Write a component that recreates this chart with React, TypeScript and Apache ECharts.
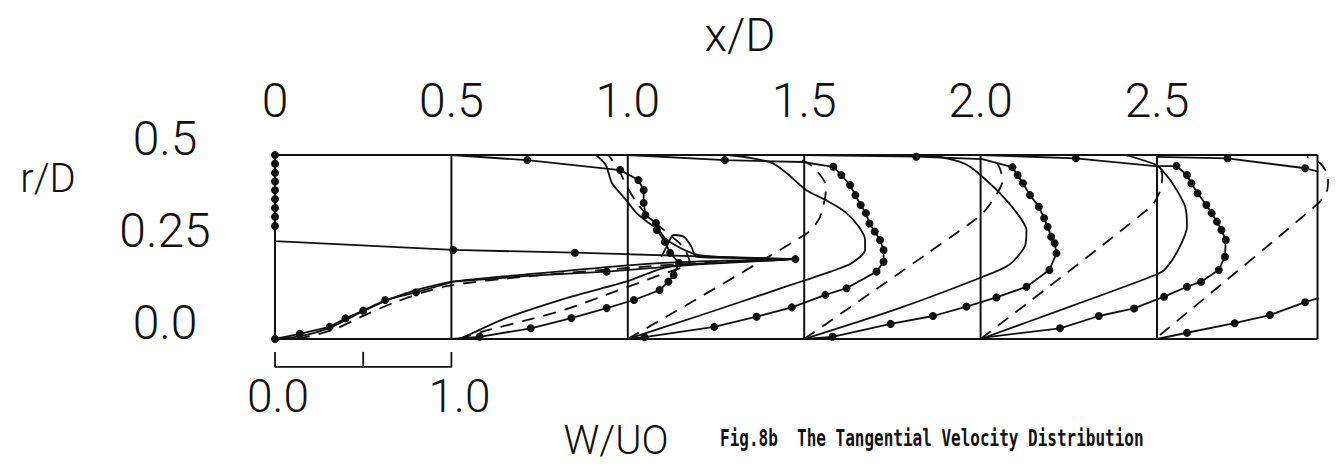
import React, { useEffect, useRef } from 'react';
import * as echarts from 'echarts';

// x/D stations at which the tangential velocity profiles were taken
const STATIONS = [0, 0.5, 1.0, 1.5, 2.0, 2.5];
const FRAME_RIGHT = 2.955; // right border of the figure frame (x/D)
const R_TICKS = [0, 0.25, 0.5];
const R_TICK_LABELS = ['0.0', '0.25', '0.5'];
const X_TICK_LABELS = ['0', '0.5', '1.0', '1.5', '2.0', '2.5'];
const W_SCALE_TICKS = [0, 0.5, 1.0];
const W_SCALE_LABELS = ['0.0', '', '1.0'];
const W_TO_XD = 0.5; // 1.0 of W/UO spans 0.5 of x/D in the figure

// Profiles: [W/UO, r/D, dot?]
const EXP_00 = [[0,0,1],[0.14,0.014,1],[0.31,0.033,1],[0.40,0.056,1],[0.50,0.077,1],[0.625,0.106,1],[0.80,0.127,1],[1.01,0.156,0],[1.45,0.172,0],[1.88,0.183,1],[2.4,0.203,0],[2.95,0.217,1],[1.70,0.2345,1],[1.01,0.242,1],[0,0.266,0],[0,0.307,1],[0,0.332,1],[0,0.356,1],[0,0.38,1],[0,0.404,1],[0,0.428,1],[0,0.452,1],[0,0.476,1],[0,0.5,1]];
const CALC_00 = [[0,0],[0.14,0.007],[0.31,0.030],[0.48,0.071],[0.655,0.109],[0.825,0.136],[1.01,0.156],[1.39,0.174],[2.02,0.201],[2.41,0.211],[2.95,0.217],[2.64,0.220],[2.39,0.223],[2.36,0.251],[2.32,0.277],[2.26,0.2826],[2.22,0.251],[2.19,0.223]];
const DASH_00 = [[0,0],[0.17,0.005],[0.34,0.027],[0.51,0.065],[0.68,0.1],[0.85,0.128],[1.01,0.147],[1.39,0.168],[2.02,0.194],[2.41,0.2065],[2.87,0.215]];

const EXP_05 = [[0,0,0],[0.16,0.006,1],[0.45,0.029,1],[0.68,0.057,1],[0.88,0.084,1],[1.035,0.106,1],[1.18,0.133,1],[1.23,0.156,1],[1.26,0.174,1],[1.29,0.2065,1],[1.24,0.234,1],[1.21,0.264,1],[1.165,0.296,1],[1.16,0.315,1],[1.10,0.337,1],[1.09,0.37,1],[1.09,0.405,1],[1.06,0.432,1],[0.957,0.459,1],[0.43,0.486,1],[0,0.5,0]];
const CALC_05 = [[0.04,0],[0.115,0.015],[0.305,0.056],[0.68,0.115],[0.99,0.156],[1.23,0.196],[1.574,0.209],[1.915,0.216],[1.403,0.228],[1.22,0.269],[1.176,0.296],[1.12,0.315],[1.05,0.342],[0.99,0.378],[0.91,0.424],[0.875,0.473],[0.82,0.5]];
const DASH_05 = [[0.04,0],[0.21,0.0245],[0.395,0.047],[0.665,0.083],[0.95,0.133],[1.18,0.174],[1.35,0.209],[1.32,0.247],[1.24,0.2826],[1.15,0.318],[1.06,0.364],[0.99,0.4185],[0.95,0.459],[0.89,0.5]];

const EXP_10 = [[0,0,0],[0.095,0.005,1],[0.49,0.033,1],[0.73,0.0606,1],[0.93,0.086,1],[1.12,0.12,1],[1.24,0.138,1],[1.41,0.183,1],[1.45,0.21,1],[1.45,0.242,1],[1.43,0.269,1],[1.40,0.292,1],[1.37,0.314,1],[1.35,0.342,1],[1.32,0.364,1],[1.29,0.391,1],[1.26,0.4185,1],[1.21,0.4457,1],[1.165,0.468,1],[0.99,0.481,0],[0.55,0.486,1],[0,0.5,0]];
const CALC_10 = [[0,0],[0.02,0.003],[0.40,0.0625],[0.74,0.117],[1.0,0.159],[1.15,0.183],[1.27,0.2065],[1.345,0.242],[1.345,0.269],[1.31,0.305],[1.23,0.346],[1.12,0.378],[1.01,0.405],[0.90,0.451],[0.82,0.478],[0.70,0.4918],[0.57,0.5]];
const DASH_10 = [[0,0],[1.015,0.287],[1.09,0.332],[1.125,0.414],[1.05,0.468],[0.99,0.486]];

const EXP_15 = [[0,0,0],[0.16,0.006,1],[0.49,0.041,1],[0.73,0.0625,1],[0.92,0.088,1],[1.09,0.113,1],[1.26,0.142,1],[1.39,0.1875,1],[1.43,0.233,1],[1.42,0.26,1],[1.40,0.278,1],[1.38,0.305,1],[1.36,0.328,1],[1.33,0.3595,1],[1.28,0.391,1],[1.24,0.423,1],[1.21,0.4457,1],[1.18,0.467,1],[1.01,0.489,0],[0.635,0.4954,1],[0,0.5,0]];
const CALC_15 = [[0,0],[0.54,0.084],[1.01,0.1685],[1.16,0.201],[1.25,0.251],[1.26,0.296],[1.20,0.346],[1.11,0.396],[1.01,0.441],[0.94,0.468],[0.88,0.482],[0.77,0.4946],[0.65,0.5]];
const DASH_15 = [[0,0],[0.98,0.328],[1.05,0.364],[1.125,0.432],[1.10,0.473],[1.05,0.492]];

const EXP_20 = [[0,0,0],[0.05,0.006,0],[0.45,0.029,1],[0.67,0.0625,1],[0.87,0.083,1],[1.04,0.115,1],[1.17,0.142,1],[1.25,0.1557,1],[1.35,0.1875,1],[1.385,0.2236,1],[1.39,0.269,1],[1.365,0.296,1],[1.34,0.319,1],[1.31,0.342,1],[1.28,0.364,1],[1.23,0.396,1],[1.195,0.423,1],[1.17,0.4457,1],[1.11,0.47,1],[0.99,0.47,0],[0.54,0.491,1],[0,0.5,0]];
const CALC_20 = [[0,0],[0.53,0.092],[0.99,0.174],[1.05,0.192],[1.12,0.242],[1.17,0.305],[1.16,0.3595],[1.10,0.414],[1.045,0.45],[0.995,0.473],[0.82,0.5]];
const DASH_20 = [[0,0],[0.965,0.3595],[1.02,0.405],[1.03,0.4457],[1.0,0.478]];

const EXP_25_LOW = [[0,0,0],[0.17,0.017,1],[0.44,0.043,1],[0.64,0.065,1],[0.84,0.1,1],[0.915,0.111,0]];
const EXP_25_TOP = [[0,0.495,0],[0.40,0.491,1],[0.84,0.464,1],[0.915,0.4546,0]];
const DASH_25 = [[0.017,0.011],[0.915,0.369],[0.965,0.405],[0.97,0.441],[0.925,0.4775],[0.85,0.495]];

const PROFILES = [
  { station: STATIONS[0], exp: [EXP_00], calc: CALC_00, dash: DASH_00 },
  { station: STATIONS[1], exp: [EXP_05], calc: CALC_05, dash: DASH_05 },
  { station: STATIONS[2], exp: [EXP_10], calc: CALC_10, dash: DASH_10 },
  { station: STATIONS[3], exp: [EXP_15], calc: CALC_15, dash: DASH_15 },
  { station: STATIONS[4], exp: [EXP_20], calc: CALC_20, dash: DASH_20 },
  { station: STATIONS[5], exp: [EXP_25_LOW, EXP_25_TOP], calc: null, dash: DASH_25 },
];

const INK = '#111';
const NUM_FONT = 'Roboto, "Liberation Sans", sans-serif';
const SCALE_BAR_TOP = -0.035;
const SCALE_BAR_BASE = -0.076;
const SCALE_LABEL_R = -0.106;

function buildOption() {
  const toXY = (s: number, w: number, r: number) => [s + w * W_TO_XD, r];
  const series: any[] = [];

  const frameSegs: number[][][] = [
    [[0, R_TICKS[2]], [FRAME_RIGHT, R_TICKS[2]]],
    [[0, R_TICKS[0]], [FRAME_RIGHT, R_TICKS[0]]],
    ...STATIONS.map((s) => [[s, R_TICKS[0]], [s, R_TICKS[2]]]),
    [[FRAME_RIGHT, R_TICKS[0]], [FRAME_RIGHT, R_TICKS[2]]],
  ];
  frameSegs.forEach((seg) =>
    series.push({ type: 'line', data: seg, showSymbol: false, silent: true, clip: false,
      lineStyle: { color: INK, width: 2 } })
  );

  PROFILES.forEach((p) => {
    p.exp.forEach((pts) =>
      series.push({
        type: 'line', clip: false, symbol: 'circle', showSymbol: true, showAllSymbol: true,
        data: pts.map((q) => ({ value: toXY(p.station, q[0], q[1]), symbolSize: q[2] ? 8 : 0 })),
        itemStyle: { color: INK }, lineStyle: { color: INK, width: 1.8 },
      })
    );
    if (p.calc) series.push({
      type: 'line', clip: false, showSymbol: false, smooth: 0.25,
      data: p.calc.map((q) => toXY(p.station, q[0], q[1])),
      lineStyle: { color: INK, width: 1.8 },
    });
    if (p.dash) series.push({
      type: 'line', clip: false, showSymbol: false, smooth: 0.25,
      data: p.dash.map((q) => toXY(p.station, q[0], q[1])),
      lineStyle: { color: INK, width: 1.8, type: [13, 9] },
    });
  });

  // W/UO scale bar under the first panel
  const wEnd = W_SCALE_TICKS[W_SCALE_TICKS.length - 1];
  series.push({
    type: 'line', clip: false, showSymbol: false,
    data: [[0, SCALE_BAR_TOP], [0, SCALE_BAR_BASE], [wEnd * W_TO_XD, SCALE_BAR_BASE], [wEnd * W_TO_XD, SCALE_BAR_TOP]],
    lineStyle: { color: INK, width: 1.8 },
  });
  W_SCALE_TICKS.slice(1, -1).forEach((w) =>
    series.push({ type: 'line', clip: false, showSymbol: false,
      data: [[w * W_TO_XD, SCALE_BAR_BASE], [w * W_TO_XD, SCALE_BAR_TOP]],
      lineStyle: { color: INK, width: 1.8 } })
  );
  series.push({
    type: 'scatter', clip: false, symbolSize: 1, silent: true,
    itemStyle: { color: 'rgba(0,0,0,0)' },
    data: W_SCALE_TICKS.map((w, i) => ({
      value: [w * W_TO_XD, SCALE_LABEL_R], name: W_SCALE_LABELS[i],
      label: { offset: [i === 0 ? 3 : 8, 0] },
    })).filter((d) => d.name),
    label: { show: true, position: 'bottom', distance: 0, formatter: (d: any) => d.name, color: INK,
      opacity: 1, lineHeight: 34, fontFamily: NUM_FONT, fontWeight: 300, fontSize: 46 },
  });

  return {
    animation: false,
    backgroundColor: '#fff',
    grid: { left: 275, top: 155, width: 1058.4, height: 184 },
    xAxis: {
      type: 'value', position: 'top', min: 0, max: 3.0, interval: 0.5,
      axisLine: { show: false }, axisTick: { show: false }, splitLine: { show: false },
      axisLabel: {
        showMaxLabel: false, margin: 38, lineHeight: 34, color: INK,
        fontFamily: NUM_FONT, fontWeight: 300, fontSize: 48,
        formatter: (v: number) => {
          const i = STATIONS.findIndex((s) => Math.abs(s - v) < 1e-6);
          return i >= 0 ? X_TICK_LABELS[i] : '';
        },
      },
    },
    yAxis: {
      type: 'value', min: 0, max: 0.5, interval: 0.25,
      axisLine: { show: false }, axisTick: { show: false }, splitLine: { show: false },
      axisLabel: {
        margin: 110, align: 'center', verticalAlign: 'bottom', lineHeight: 34, color: INK,
        fontFamily: NUM_FONT, fontWeight: 300, fontSize: 48,
        formatter: (v: number) => {
          const i = R_TICKS.findIndex((s) => Math.abs(s - v) < 1e-6);
          return i >= 0 ? R_TICK_LABELS[i] : '';
        },
      },
    },
    graphic: [
      { type: 'text', x: 740, y: 35, style: { text: 'x/D', fill: INK, font: `300 46px ${NUM_FONT}`, align: 'center', verticalAlign: 'middle' } },
      { type: 'text', x: 48, y: 178, style: { text: 'r/D', fill: INK, font: `300 40px ${NUM_FONT}`, align: 'center', verticalAlign: 'middle' } },
      { type: 'text', x: 616, y: 440, style: { text: 'W/UO', fill: INK, font: `300 40px ${NUM_FONT}`, lineHeight: 40, align: 'center', verticalAlign: 'middle' } },
      { type: 'text', x: 720, y: 439, scaleY: 1.4, originY: 0,
        style: { text: 'Fig.8b  The Tangential Velocity Distribution', fill: INK,
          font: 'bold 16px "DejaVu Sans Mono", "Liberation Mono", monospace', align: 'left', verticalAlign: 'middle' } },
    ],
    series,
  };
}

export default function App() {
  const ref = useRef<HTMLDivElement>(null);
  useEffect(() => {
    if (!ref.current) return;
    const chart = echarts.init(ref.current, null, { renderer: 'svg' });
    chart.setOption(buildOption() as any);
    return () => chart.dispose();
  }, []);
  return (
    <div ref={ref} style={{ position: 'fixed', left: 0, top: 0, width: 1336, height: 467, background: '#fff' }} />
  );
}
